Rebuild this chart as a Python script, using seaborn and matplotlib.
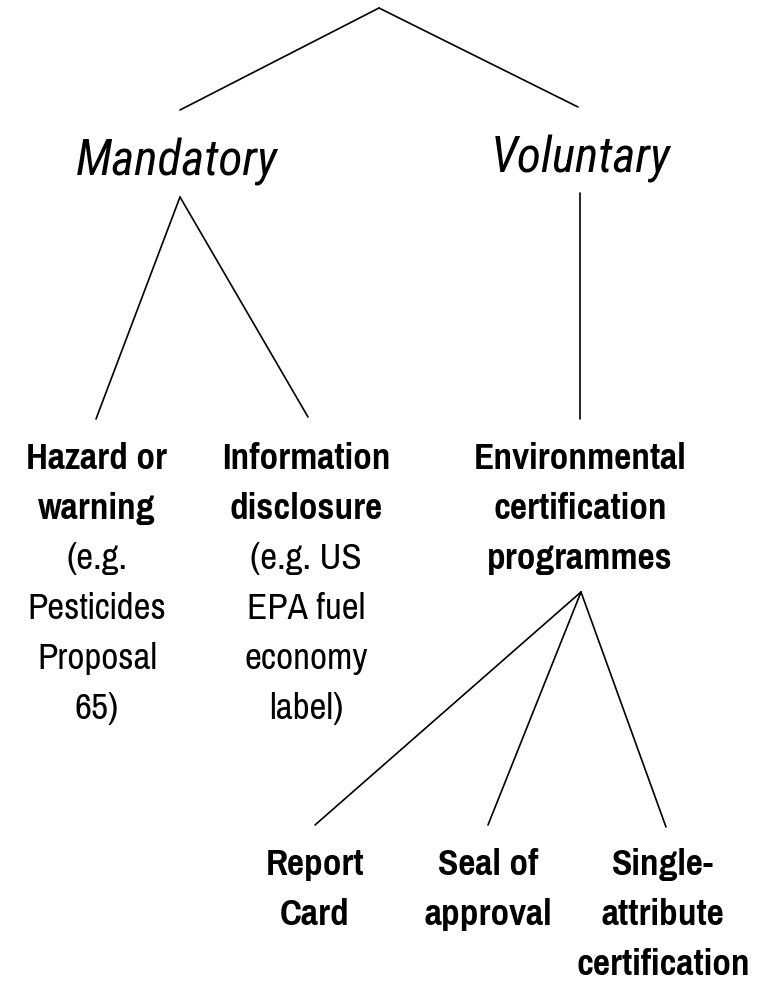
import pandas as pd
import matplotlib.pyplot as plt
import seaborn as sns
from matplotlib import font_manager
from matplotlib.font_manager import FontProperties
from matplotlib.textpath import TextPath

# Nodes of the tree (pixel layout, y grows downward)
node_names = ["root", "mandatory", "voluntary", "hazard", "information",
              "environmental", "report", "seal", "single"]
# where the incoming edge ends
node_in = [(379, 8), (180, 110), (578, 107), (96, 419), (308, 417),
           (580, 419), (315, 825), (488, 825), (666, 827)]
# where outgoing edges start
node_out = [(379, 8), (180, 197), (580, 193), None, None,
            (581, 592), None, None, None]

edges = [("root", "mandatory"), ("root", "voluntary"),
         ("mandatory", "hazard"), ("mandatory", "information"),
         ("voluntary", "environmental"),
         ("environmental", "report"), ("environmental", "seal"),
         ("environmental", "single")]

category_labels = {"mandatory": "Mandatory", "voluntary": "Voluntary"}
leaf_lines = {
    "hazard": ["Hazard or", "warning", "(e.g.", "Pesticides", "Proposal", "65)"],
    "information": ["Information", "disclosure", "(e.g. US", "EPA fuel", "economy", "label)"],
    "environmental": ["Environmental", "certification", "programmes"],
    "report": ["Report", "Card"],
    "seal": ["Seal of", "approval"],
    "single": ["Single-", "attribute", "certification"],
}
leaf_bold = {"hazard": 2, "information": 2, "environmental": 3,
             "report": 2, "seal": 2, "single": 3}
label_x = {"mandatory": 177, "voluntary": 581, "hazard": 97, "information": 306,
           "environmental": 580, "report": 315, "seal": 488, "single": 663}
label_baseline = {"mandatory": 175, "voluntary": 172, "hazard": 469,
                  "information": 469, "environmental": 469, "report": 875,
                  "seal": 875, "single": 875}


def pick(cands, style, bold):
    for c in cands:
        for f in font_manager.fontManager.ttflist:
            w = f.weight if isinstance(f.weight, int) else font_manager.weight_dict.get(f.weight, 400)
            if f.name == c and f.style == style and ((w >= 600) if bold else (350 <= w < 600)):
                return c
    return "Liberation Sans"


narrow = ["Liberation Sans Narrow", "Arial Narrow", "Pragati Narrow",
          "Roboto Condensed", "PT Sans Narrow", "Archivo Narrow", "Asap Condensed"]
fam_bold = pick(narrow, "normal", True)
fam_reg = pick([fam_bold] + narrow, "normal", False)
fam_ital = pick([fam_reg] + narrow, "italic", False)


def size_for(text, width_px, cap_px, **kw):
    # compromise between matching the word width and the cap height
    prop = FontProperties(**kw)
    w = TextPath((0, 0), text, size=1, prop=prop).get_extents().width
    h = TextPath((0, 0), "H", size=1, prop=prop).get_extents().height
    by_w = width_px / (w * 100 / 72)
    by_h = cap_px / (h * 100 / 72)
    return (by_w * by_h) ** 0.5


size_bold = size_for("certification", 173, 25, family=fam_bold, weight="bold")
size_reg = size_for("Pesticides", 142, 24, family=fam_reg)
size_ital = size_for("Mandatory", 192, 37, family=fam_ital, style="italic")

top_in = dict(zip(node_names, node_in))
top_out = dict(zip(node_names, node_out))
rows = []
for i, (p, c) in enumerate(edges):
    (x0, y0), (x1, y1) = top_out[p], top_in[c]
    rows.append({"edge": i, "x": x0, "y": y0})
    rows.append({"edge": i, "x": x1, "y": y1})
edge_df = pd.DataFrame(rows)

sns.set_style("white")
plt.rcParams["font.family"] = [fam_reg, "DejaVu Sans"]

fig = plt.figure(figsize=(7.75, 9.82), dpi=100)
ax = fig.add_axes([0, 0, 1, 1])
sns.lineplot(data=edge_df, x="x", y="y", units="edge", estimator=None,
             sort=False, color="black", linewidth=1.2, ax=ax, legend=False)

for k, txt in category_labels.items():
    ax.text(label_x[k], label_baseline[k], txt, fontsize=size_ital, style="italic",
            family=[fam_ital, "DejaVu Sans"], color="black",
            ha="center", va="baseline")

for k, lines in leaf_lines.items():
    for j, line in enumerate(lines):
        bold = j < leaf_bold[k]
        ax.text(label_x[k], label_baseline[k] + 50 * j, line,
                fontsize=size_bold if bold else size_reg,
                fontweight="bold" if bold else "normal",
                family=[fam_bold if bold else fam_reg, "DejaVu Sans"],
                color="black", ha="center", va="baseline")

ax.set_xlim(0, 775)
ax.set_ylim(982, 0)
ax.axis("off")
fig.savefig("out.png", dpi=100, facecolor="white")
